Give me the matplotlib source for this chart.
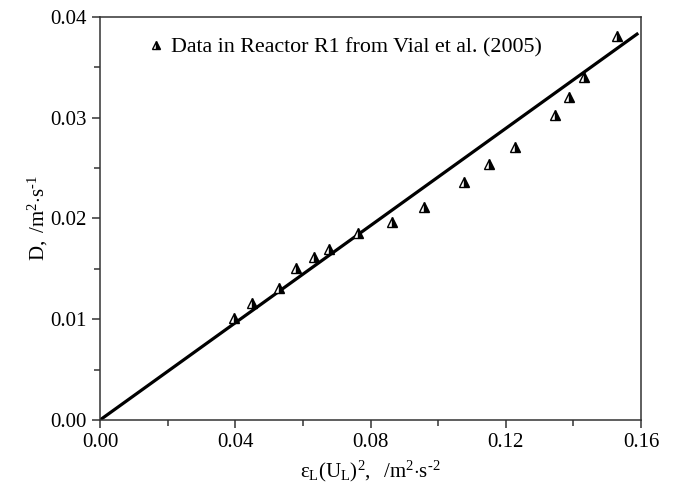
import numpy as np
import matplotlib
matplotlib.use('Agg')
import matplotlib.pyplot as plt
from matplotlib.ticker import MultipleLocator, FormatStrFormatter

# 字体设置 (Times 风格)
plt.rcParams['font.family'] = 'Liberation Serif'
plt.rcParams['mathtext.fontset'] = 'custom'
plt.rcParams['mathtext.rm'] = 'Liberation Serif'
plt.rcParams['mathtext.it'] = 'Liberation Serif:italic'

# 数据 (Vial et al. 2005, Reactor R1)
x_data = [0.0396, 0.0449, 0.0530, 0.0580, 0.0633, 0.0676, 0.0764, 0.0863,
          0.0958, 0.1075, 0.1151, 0.1227, 0.1346, 0.1387, 0.1431, 0.1529]
y_data = [0.0101, 0.0116, 0.0131, 0.0151, 0.0162, 0.0170, 0.0186, 0.0197,
          0.0211, 0.0236, 0.0254, 0.0271, 0.0303, 0.0321, 0.0340, 0.0381]

# 拟合直线
slope = 0.2412
x_fit = np.array([0.0, 0.1588])
y_fit = slope * x_fit

fig = plt.figure(figsize=(6.74, 4.93), dpi=100)
ax = fig.add_axes([0.1484, 0.1481, 0.8027, 0.8174])

ax.plot(x_fit, y_fit, color='black', linewidth=2.3, zorder=2)
ax.plot(x_data, y_data, linestyle='none', marker='^', markersize=7,
        fillstyle='right', markerfacecolor='black', markerfacecoloralt='white',
        markeredgecolor='black', markeredgewidth=1.0, zorder=3,
        label='Data in Reactor R1 from Vial et al. (2005)')

ax.set_xlim(0, 0.16)
ax.set_ylim(0, 0.04)
ax.xaxis.set_major_locator(MultipleLocator(0.04))
ax.xaxis.set_minor_locator(MultipleLocator(0.02))
ax.yaxis.set_major_locator(MultipleLocator(0.01))
ax.yaxis.set_minor_locator(MultipleLocator(0.005))
ax.xaxis.set_major_formatter(FormatStrFormatter('%.2f'))
ax.yaxis.set_major_formatter(FormatStrFormatter('%.2f'))

ax.tick_params(which='major', direction='out', length=6, width=1.1, labelsize=15,
               top=False, right=False, color='#333333')
ax.tick_params(which='minor', direction='out', length=4, width=1.1,
               top=False, right=False, color='#333333')
for s in ax.spines.values():
    s.set_linewidth(1.1)
    s.set_color('#333333')

ax.set_xlabel(r'$\mathrm{\varepsilon_L(U_L)^2,\ \ /m^2{\cdot}s^{\text{-}2}}$', fontsize=15, labelpad=5)
ax.set_ylabel(r'$\mathrm{D,\ /m^2{\cdot}s^{\text{-}1}}$', fontsize=15, labelpad=0)

ax.legend(loc='upper left', frameon=False, fontsize=15.8, handlelength=0.8,
          handletextpad=0.3, borderaxespad=0.5, markerscale=0.9,
          bbox_to_anchor=(0.05, 0.998))

fig.savefig('out.png', dpi=100)
